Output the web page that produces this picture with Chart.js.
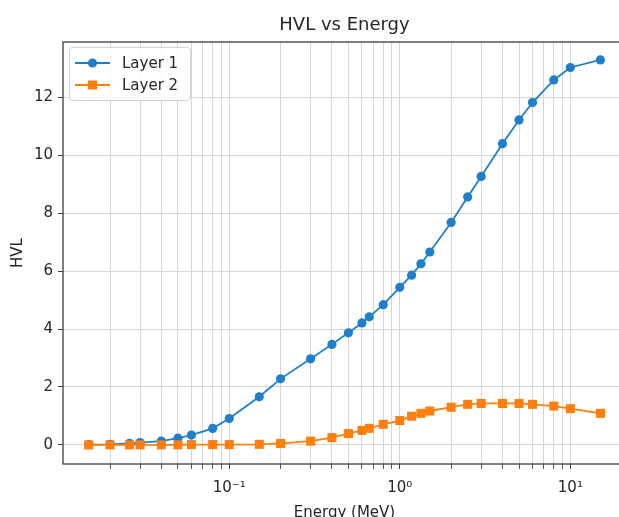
<!DOCTYPE html>
<html>
<head>
<meta charset="utf-8">
<script src="https://cdn.jsdelivr.net/npm/chart.js@4/dist/chart.umd.min.js"></script>
<style>
  html, body { margin: 0; padding: 0; overflow: hidden; background: #fff; }
  canvas { display: block; }
</style>
</head>
<body>
<canvas id="hvlChart" width="660" height="530" style="width:660px;height:530px"></canvas>
<script>
  // data
  const energies = [0.015, 0.02, 0.026, 0.03, 0.04, 0.05, 0.06, 0.08, 0.1, 0.15, 0.2, 0.3, 0.4, 0.5, 0.6, 0.662, 0.8, 1.0,
    1.173, 1.33, 1.5, 2, 2.5, 3, 4, 5, 6, 8, 10, 15];
  const layer1 = [0.01, 0.02, 0.05, 0.08, 0.13, 0.23, 0.34, 0.57, 0.91, 1.66, 2.28, 2.97, 3.47, 3.87, 4.21, 4.42, 4.84, 5.44,
    5.86, 6.25, 6.66, 7.68, 8.56, 9.27, 10.40, 11.22, 11.82, 12.60, 13.03, 13.29];
  const layer2 = [0, 0, 0, 0, 0, 0, 0.01, 0.01, 0.01, 0.02, 0.05, 0.13, 0.25, 0.39, 0.50, 0.57, 0.71, 0.84,
    0.99, 1.09, 1.17, 1.30, 1.40, 1.43, 1.43, 1.43, 1.40, 1.34, 1.25, 1.09];
  const seriesNames = ['Layer 1', 'Layer 2'];
  const xMajorTicks = [0.1, 1, 10];
  const xTickLabels = ['10⁻¹', '10⁰', '10¹'];
  const yTicks = [0, 2, 4, 6, 8, 10, 12];

  const chartTitle = 'HVL vs Energy';
  const textColor = '#262626';
  const blue = '#1f7fc9';
  const orange = '#ff7f0e';

  Chart.defaults.font.family = '"DejaVu Sans", sans-serif';
  Chart.defaults.font.size = 15;
  Chart.defaults.color = textColor;

  const toPoints = ys => energies.map((e, i) => ({ x: e, y: ys[i] }));

  // title, axes frame and legend box drawn inside the plot like matplotlib
  const framePlugin = {
    id: 'framePlugin',
    afterDraw(chart) {
      const { ctx, chartArea: a } = chart;
      ctx.save();
      ctx.fillStyle = textColor;
      ctx.font = '18px "DejaVu Sans"';
      ctx.textAlign = 'center';
      ctx.textBaseline = 'alphabetic';
      ctx.fillText(chartTitle, (a.left + a.right) / 2, 30);

      ctx.strokeStyle = '#3c3c3c';
      ctx.lineWidth = 1.3;
      ctx.strokeRect(a.left, a.top, a.right - a.left, a.bottom - a.top);

      // legend
      ctx.fillStyle = 'rgba(255,255,255,0.85)';
      ctx.strokeStyle = '#d2d2d2';
      ctx.lineWidth = 1;
      ctx.beginPath();
      ctx.roundRect(69.5, 47.5, 121, 53, 3);
      ctx.fill();
      ctx.stroke();
      seriesNames.forEach((name, i) => {
        const ds = chart.data.datasets[i];
        const y = 63 + i * 22;
        ctx.strokeStyle = ds.borderColor;
        ctx.lineWidth = 1.8;
        ctx.beginPath();
        ctx.moveTo(75, y);
        ctx.lineTo(110, y);
        ctx.stroke();
        ctx.fillStyle = ds.borderColor;
        ctx.beginPath();
        if (ds.pointStyle === 'rect') ctx.rect(92.5 - 4.5, y - 4.5, 9, 9);
        else ctx.arc(92.5, y, 4.6, 0, Math.PI * 2);
        ctx.fill();
        ctx.fillStyle = textColor;
        ctx.font = '15px "DejaVu Sans"';
        ctx.textAlign = 'left';
        ctx.textBaseline = 'middle';
        ctx.fillText(name, 122, y + 1);
      });
      ctx.restore();
    }
  };

  const ctx = document.getElementById('hvlChart').getContext('2d');

  const hvlChart = new Chart(ctx, {
    type: 'line',
    data: {
      datasets: [{
        label: seriesNames[0],
        data: toPoints(layer1),
        order: 1,
        borderColor: blue,
        backgroundColor: blue,
        borderWidth: 1.8,
        pointStyle: 'circle',
        pointRadius: 4.6,
        pointBorderWidth: 0,
        pointBackgroundColor: blue
      }, {
        label: seriesNames[1],
        data: toPoints(layer2),
        order: 0, // orange on top, as plotted second in the original
        borderColor: orange,
        backgroundColor: orange,
        borderWidth: 1.8,
        pointStyle: 'rect',
        pointRadius: 6.4,
        pointBorderWidth: 0,
        pointBackgroundColor: orange
      }]
    },
    options: {
      responsive: false,
      animation: false,
      devicePixelRatio: 1,
      layout: { padding: { top: 42, right: 34, bottom: 0, left: 0 } },
      plugins: { legend: { display: false }, title: { display: false }, tooltip: { enabled: false } },
      scales: {
        x: {
          type: 'logarithmic',
          min: 0.0106,
          max: 21.2,
          afterFit: s => { s.height = 66; },
          afterBuildTicks: s => {
            const t = [];
            for (let exp = -2; exp <= 1; exp++) {
              for (let k = 1; k <= 9; k++) {
                const v = Number((k * Math.pow(10, exp)).toPrecision(6));
                if (v >= s.min && v <= s.max) t.push({ value: v, major: k === 1 });
              }
            }
            s.ticks = t;
          },
          ticks: {
            autoSkip: false,
            maxRotation: 0,
            padding: 10,
            color: textColor,
            callback: v => {
              const i = xMajorTicks.indexOf(v);
              return i >= 0 ? xTickLabels[i] : '';
            }
          },
          grid: {
            color: '#d6d6d6',
            lineWidth: 1,
            tickLength: 5,
            tickColor: c => (c.tick && c.tick.major) ? '#3c3c3c' : '#5a5a5a'
          },
          border: { display: false },
          title: { display: true, text: 'Energy (MeV)', color: textColor, padding: { top: 0, bottom: 8 } }
        },
        y: {
          type: 'linear',
          min: -0.66,
          max: 13.91,
          afterFit: s => { s.width = 63; },
          afterBuildTicks: s => { s.ticks = yTicks.map(v => ({ value: v })); },
          ticks: { padding: 5, color: textColor },
          grid: { color: '#d6d6d6', lineWidth: 1, tickLength: 5, tickColor: '#3c3c3c' },
          border: { display: false },
          title: { display: true, text: 'HVL', color: textColor, padding: { top: 9, bottom: 0 } }
        }
      }
    },
    plugins: [framePlugin]
  });
</script>
</body>
</html>
